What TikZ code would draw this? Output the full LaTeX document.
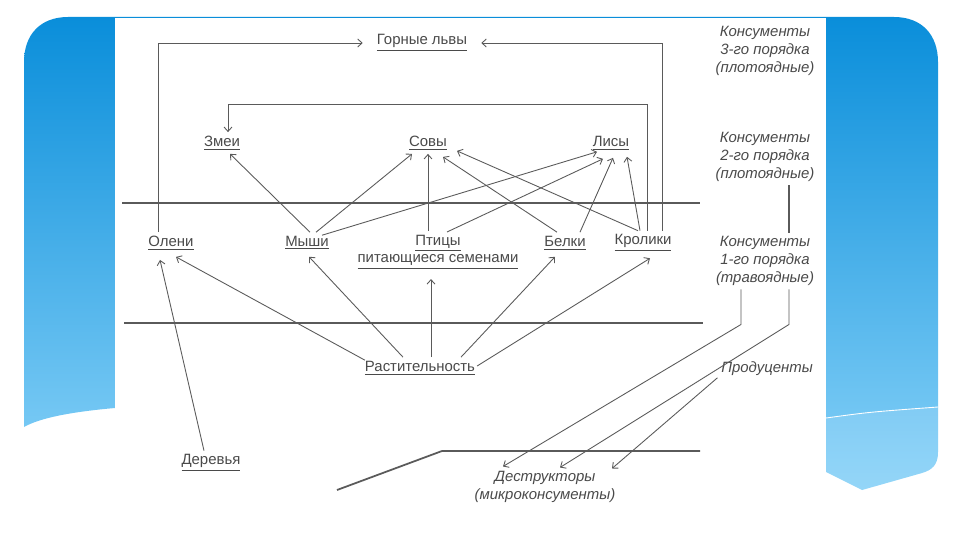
\documentclass[tikz,border=0pt]{standalone}
\usepackage{fontspec}
\setmainfont{Liberation Sans}
\usetikzlibrary{arrows.meta}
\definecolor{slideTop}{HTML}{0A8EDA}
\definecolor{slideBot}{HTML}{86D1F8}
\definecolor{inkGray}{HTML}{4A4A4A}
\definecolor{lineGray}{HTML}{5A5A5A}
\newcommand{\undl}[1]{\underline{#1}}
\tikzset{
  species/.style={font=\fontsize{8.5}{10}\selectfont, text=inkGray, inner xsep=1pt, inner ysep=2pt},
  levelText/.style={font=\fontsize{8.5}{10.2}\selectfont\itshape, text=inkGray, align=center, inner sep=2pt},
  arrow/.style={-{Straight Barb[length=2.5pt,width=4.5pt]}, draw=lineGray, line width=0.5pt},
  joint/.style={draw=lineGray, line width=0.6pt},
  divider/.style={draw=lineGray, line width=1pt}
}

\begin{document}
\begin{tikzpicture}[x=0.02cm, y=-0.02cm]
  \useasboundingbox (0,0) rectangle (960,540);
  % slide background
  \shade[top color=slideTop, bottom color=slideBot]
    (24,427) -- (24,62) .. controls (24,35) and (40,17) .. (68,17) -- (894,17)
    .. controls (922,17) and (938,35) .. (938,62) -- (938,452)
    .. controls (938,465) and (932,470) .. (922,473) -- (862,490) -- (826,472)
    -- (115,472) -- (115,408) .. controls (70,412) and (40,418) .. (24,427) -- cycle;
  \fill[white, opacity=0.12] (826,418) .. controls (870,412) .. (938,407) -- (938,452)
    .. controls (938,465) and (932,470) .. (922,473) -- (862,490) -- (826,472) -- cycle;
  \draw[white, line width=0.5pt] (826,418) .. controls (870,412) .. (938,407);
  \fill[white] (115,18) rectangle (826,513);

  % species
  \node[species] (lions) at (422,43) {\undl{Горные львы}};
  \node[species] (snakes) at (222,143) {\undl{Змеи}};
  \node[species] (owls) at (428,143) {\undl{Совы}};
  \node[species] (foxes) at (611,143) {\undl{Лисы}};
  \node[species] (deer) at (171,243) {\undl{Олени}};
  \node[species] (mice) at (307,243) {\undl{Мыши}};
  \node[species, align=center, anchor=north] (birds) at (438,231) {\undl{Птицы}\\\undl{питающиеся семенами}};
  \node[species] (squirrels) at (565,243) {\undl{Белки}};
  \node[species] (rabbits) at (643,243) {\undl{Кролики}};
  \node[species] (plants) at (420,368) {\undl{Растительность}};
  \node[species] (trees) at (211,463) {\undl{Деревья}};

  % trophic levels
  \node[levelText] (order3) at (765,51) {Консументы\\3-го порядка\\(плотоядные)};
  \node[levelText] (order2) at (765,157) {Консументы\\2-го порядка\\(плотоядные)};
  \node[levelText] (order1) at (765,261) {Консументы\\1-го порядка\\(травоядные)};
  \node[levelText] (producers) at (767,369) {Продуценты};
  \node[levelText] (decomposers) at (545,487) {Деструкторы\\(микроконсументы)};

  \draw[divider] (122,203) -- (700,203);
  \draw[divider, line width=0.8pt] (124,323) -- (703,323);
  \draw[divider] (337,490) -- (442,451) -- (700,451);

  \draw[arrow] ([shift={(3,0)}]mice.north) -- ([shift={(8,0)}]snakes.south);
  \draw[arrow] ([shift={(9,0)}]mice.north) -- ([shift={(-16,0)}]owls.south);
  \draw[arrow] ([shift={(15,3)}]mice.north) -- ([shift={(-14,-2)}]foxes.south);
  \draw[arrow] ([shift={(-10,0)}]birds.north) -- (owls.south);
  \draw[arrow] ([shift={(9,1)}]birds.north) -- ([shift={(-8,5)}]foxes.south);
  \draw[arrow] ([shift={(-8,0)}]squirrels.north) -- ([shift={(15,3)}]owls.south);
  \draw[arrow] ([shift={(15,0)}]squirrels.north) -- ([shift={(2,4)}]foxes.south);
  \draw[arrow] ([shift={(-5,0)}]rabbits.north) -- ([shift={(29,-3)}]owls.south);
  \draw[arrow] ([shift={(-3,0)}]rabbits.north) -- ([shift={(16,3)}]foxes.south);
  \draw[arrow] ([shift={(4,0)}]rabbits.north) -- ++(0,-126) -| ([shift={(6,0)}]snakes.north);
  \draw[arrow] ([shift={(19,0)}]rabbits.north) |- ([shift={(12,0)}]lions.east);
  \draw[arrow] ([shift={(-13,0)}]deer.north) |- ([shift={(-12,0)}]lions.west);

  \draw[arrow] ([shift={(2,3)}]plants.north west) -- ([shift={(5,3)}]deer.south);
  \draw[arrow] ([shift={(-17,0)}]plants.north) -- ([shift={(2,3)}]mice.south);
  \draw[arrow] ([shift={(11,0)}]plants.north) -- ([shift={(-7,6)}]birds.south);
  \draw[arrow] ([shift={(41,0)}]plants.north) -- ([shift={(-10,3)}]squirrels.south);
  \draw[arrow] ([shift={(0,-2)}]plants.east) -- ([shift={(7,3)}]rabbits.south);
  \draw[arrow] ([shift={(-7,0)}]trees.north) -- ([shift={(-11,6)}]deer.south);

  \draw[joint] ([shift={(24,0)}]order2.south) -- ([shift={(24,0)}]order1.north);
  \draw[arrow] ([shift={(-24,0)}]order1.south) -- ++(0,35) -- ([shift={(-42,-1)}]decomposers.north);
  \draw[arrow] ([shift={(24,0)}]order1.south) -- ++(0,35) -- ([shift={(15,0)}]decomposers.north);
  \draw[arrow] ([shift={(0,-2)}]producers.south west) -- ([shift={(67,1)}]decomposers.north);
\end{tikzpicture}
\end{document}
